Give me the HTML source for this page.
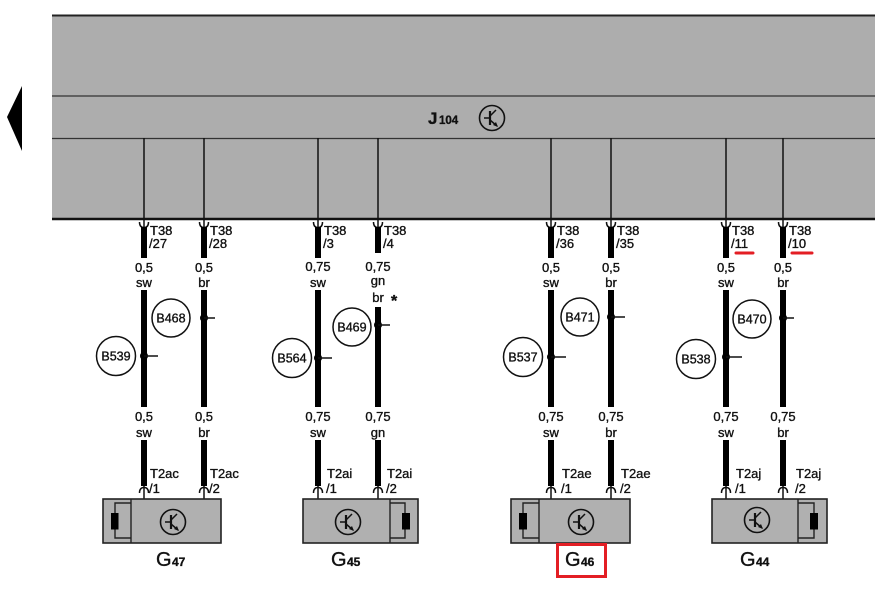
<!DOCTYPE html>
<html><head><meta charset="utf-8"><style>
html,body{margin:0;padding:0;background:#fff;}
svg{display:block;}
text{font-family:"Liberation Sans",Arial,sans-serif;fill:#111;stroke:#111;stroke-width:0.35px;}
</style></head><body>
<svg width="881" height="590" viewBox="0 0 881 590" xmlns="http://www.w3.org/2000/svg">
<rect width="881" height="590" fill="#fff"/>
<polygon points="22,86 7,117 22,151" fill="#000"/>
<rect x="52" y="15" width="823" height="204" fill="#adadad"/>
<line x1="52" y1="15.5" x2="875" y2="15.5" stroke="#222" stroke-width="2"/>
<line x1="52" y1="96" x2="875" y2="96" stroke="#333" stroke-width="1.3"/>
<line x1="52" y1="138.5" x2="875" y2="138.5" stroke="#333" stroke-width="1.3"/>
<line x1="52" y1="219" x2="875" y2="219" stroke="#111" stroke-width="2.5"/>
<text x="428" y="124" font-size="17" font-weight="bold">J</text>
<text x="439" y="124" font-size="11.5" font-weight="bold">104</text>
<g id="sym" fill="none" stroke="#111">
<circle cx="492" cy="118" r="12.5" stroke-width="1.6"/>
<line x1="484" y1="118" x2="490" y2="118" stroke-width="1.5"/>
<line x1="490" y1="111" x2="490" y2="125" stroke-width="2.2"/>
<line x1="490" y1="116" x2="496" y2="110" stroke-width="1.5"/>
<line x1="490" y1="120" x2="497" y2="126" stroke-width="1.5"/>
<polygon points="498,127 493,125 496,122" fill="#111" stroke="none"/>
</g>

<g stroke="#111" stroke-width="1.5" fill="none">
<line x1="144" y1="138" x2="144" y2="228"/>
<line x1="204" y1="138" x2="204" y2="228"/>
<line x1="318" y1="138" x2="318" y2="228"/>
<line x1="378" y1="138" x2="378" y2="228"/>
<line x1="551" y1="138" x2="551" y2="228"/>
<line x1="611" y1="138" x2="611" y2="228"/>
<line x1="726" y1="138" x2="726" y2="228"/>
<line x1="783" y1="138" x2="783" y2="228"/>
<path d="M139.5,222 Q139.5,227.5 144,227.5 Q148.5,227.5 148.5,222"/>
<path d="M199.5,222 Q199.5,227.5 204,227.5 Q208.5,227.5 208.5,222"/>
<path d="M313.5,222 Q313.5,227.5 318,227.5 Q322.5,227.5 322.5,222"/>
<path d="M373.5,222 Q373.5,227.5 378,227.5 Q382.5,227.5 382.5,222"/>
<path d="M546.5,222 Q546.5,227.5 551,227.5 Q555.5,227.5 555.5,222"/>
<path d="M606.5,222 Q606.5,227.5 611,227.5 Q615.5,227.5 615.5,222"/>
<path d="M721.5,222 Q721.5,227.5 726,227.5 Q730.5,227.5 730.5,222"/>
<path d="M778.5,222 Q778.5,227.5 783,227.5 Q787.5,227.5 787.5,222"/>
<line x1="144" y1="485" x2="144" y2="499"/>
<line x1="204" y1="485" x2="204" y2="499"/>
<line x1="318" y1="485" x2="318" y2="499"/>
<line x1="378" y1="485" x2="378" y2="499"/>
<line x1="551" y1="485" x2="551" y2="499"/>
<line x1="611" y1="485" x2="611" y2="499"/>
<line x1="726" y1="485" x2="726" y2="499"/>
<line x1="783" y1="485" x2="783" y2="499"/>
<path d="M139.5,493 Q139.5,487.5 144,487.5 Q148.5,487.5 148.5,493"/>
<path d="M199.5,493 Q199.5,487.5 204,487.5 Q208.5,487.5 208.5,493"/>
<path d="M313.5,493 Q313.5,487.5 318,487.5 Q322.5,487.5 322.5,493"/>
<path d="M373.5,493 Q373.5,487.5 378,487.5 Q382.5,487.5 382.5,493"/>
<path d="M546.5,493 Q546.5,487.5 551,487.5 Q555.5,487.5 555.5,493"/>
<path d="M606.5,493 Q606.5,487.5 611,487.5 Q615.5,487.5 615.5,493"/>
<path d="M721.5,493 Q721.5,487.5 726,487.5 Q730.5,487.5 730.5,493"/>
<path d="M778.5,493 Q778.5,487.5 783,487.5 Q787.5,487.5 787.5,493"/>
</g>
<g stroke="#000" stroke-width="6">
<line x1="144" y1="227" x2="144" y2="258"/><line x1="144" y1="290" x2="144" y2="407"/><line x1="144" y1="440" x2="144" y2="486"/>
<line x1="204" y1="227" x2="204" y2="258"/><line x1="204" y1="290" x2="204" y2="407"/><line x1="204" y1="440" x2="204" y2="486"/>
<line x1="318" y1="227" x2="318" y2="258"/><line x1="318" y1="290" x2="318" y2="407"/><line x1="318" y1="440" x2="318" y2="486"/>
<line x1="378" y1="227" x2="378" y2="253"/><line x1="378" y1="307" x2="378" y2="407"/><line x1="378" y1="440" x2="378" y2="486"/>
<line x1="551" y1="227" x2="551" y2="258"/><line x1="551" y1="290" x2="551" y2="407"/><line x1="551" y1="440" x2="551" y2="486"/>
<line x1="611" y1="227" x2="611" y2="258"/><line x1="611" y1="290" x2="611" y2="407"/><line x1="611" y1="440" x2="611" y2="486"/>
<line x1="726" y1="227" x2="726" y2="258"/><line x1="726" y1="290" x2="726" y2="407"/><line x1="726" y1="440" x2="726" y2="486"/>
<line x1="783" y1="227" x2="783" y2="258"/><line x1="783" y1="290" x2="783" y2="407"/><line x1="783" y1="440" x2="783" y2="486"/>
</g>

<g font-size="13">
<text x="150" y="235">T38</text><text x="149" y="248">/27</text>
<text x="210" y="235">T38</text><text x="209" y="248">/28</text>
<text x="324" y="235">T38</text><text x="323" y="248">/3</text>
<text x="384" y="235">T38</text><text x="383" y="248">/4</text>
<text x="557" y="235">T38</text><text x="556" y="248">/36</text>
<text x="617" y="235">T38</text><text x="616" y="248">/35</text>
<text x="732" y="235">T38</text><text x="731" y="248">/11</text>
<text x="789" y="235">T38</text><text x="788" y="248">/10</text>
</g>
<line x1="736" y1="253" x2="753" y2="253" stroke="#e31e24" stroke-width="3" stroke-linecap="round"/>
<line x1="792" y1="253" x2="812" y2="253" stroke="#e31e24" stroke-width="3" stroke-linecap="round"/>

<g font-size="13" text-anchor="middle">
<text x="144" y="272">0,5</text><text x="144" y="287">sw</text>
<text x="204" y="272">0,5</text><text x="204" y="287">br</text>
<text x="318" y="271">0,75</text><text x="318" y="287">sw</text>
<text x="378" y="271">0,75</text><text x="378" y="285">gn</text><text x="378" y="302">br</text>
<text x="551" y="272">0,5</text><text x="551" y="287">sw</text>
<text x="611" y="272">0,5</text><text x="611" y="287">br</text>
<text x="726" y="272">0,5</text><text x="726" y="287">sw</text>
<text x="783" y="272">0,5</text><text x="783" y="287">br</text>

<text x="144" y="421">0,5</text><text x="144" y="437">sw</text>
<text x="204" y="421">0,5</text><text x="204" y="437">br</text>
<text x="318" y="421">0,75</text><text x="318" y="437">sw</text>
<text x="378" y="421">0,75</text><text x="378" y="437">gn</text>
<text x="551" y="421">0,75</text><text x="551" y="437">sw</text>
<text x="611" y="421">0,75</text><text x="611" y="437">br</text>
<text x="726" y="421">0,75</text><text x="726" y="437">sw</text>
<text x="783" y="421">0,75</text><text x="783" y="437">br</text>
</g>
<text x="391" y="306" font-size="16" font-weight="bold">*</text>

<g fill="#fff" stroke="#111" stroke-width="1.5">
<circle cx="116" cy="356" r="19.5"/>
<circle cx="171" cy="318" r="19"/>
<circle cx="292" cy="358" r="19.5"/>
<circle cx="352" cy="327" r="19"/>
<circle cx="523" cy="357" r="19.5"/>
<circle cx="580" cy="317" r="19"/>
<circle cx="696" cy="359" r="19.5"/>
<circle cx="752" cy="319" r="19"/>
</g>
<g font-size="12.5" text-anchor="middle">
<text x="116" y="360.5">B539</text>
<text x="171" y="322.5">B468</text>
<text x="292" y="362.5">B564</text>
<text x="352" y="331.5">B469</text>
<text x="523" y="361.5">B537</text>
<text x="580" y="321.5">B471</text>
<text x="696" y="363.5">B538</text>
<text x="752" y="323.5">B470</text>
</g>
<g fill="#000">
<circle cx="144" cy="356" r="4"/><circle cx="204" cy="318" r="4"/>
<circle cx="318" cy="358" r="4"/><circle cx="378" cy="325" r="4"/>
<circle cx="551" cy="357" r="4"/><circle cx="611" cy="317" r="4"/>
<circle cx="726" cy="357" r="4"/><circle cx="783" cy="318" r="4"/>
</g>
<g stroke="#111" stroke-width="1.5">
<line x1="144" y1="356" x2="158" y2="356"/><line x1="204" y1="318" x2="215" y2="318"/>
<line x1="318" y1="358" x2="332" y2="358"/><line x1="378" y1="325" x2="390" y2="325"/>
<line x1="551" y1="357" x2="566" y2="357"/><line x1="611" y1="317" x2="625" y2="317"/>
<line x1="726" y1="357" x2="742" y2="357"/><line x1="783" y1="318" x2="794" y2="318"/>
</g>

<g font-size="13">
<text x="150" y="478">T2ac</text><text x="149" y="493">/1</text>
<text x="210" y="478">T2ac</text><text x="209" y="493">/2</text>
<text x="327" y="478">T2ai</text><text x="326" y="493">/1</text>
<text x="387" y="478">T2ai</text><text x="386" y="493">/2</text>
<text x="562" y="478">T2ae</text><text x="561" y="493">/1</text>
<text x="621" y="478">T2ae</text><text x="620" y="493">/2</text>
<text x="736" y="478">T2aj</text><text x="735" y="493">/1</text>
<text x="796" y="478">T2aj</text><text x="795" y="493">/2</text>
</g>

<g fill="#b0b0b0" stroke="#222" stroke-width="1.6">
<rect x="103" y="499" width="118" height="44"/>
<rect x="303" y="499" width="115" height="44"/>
<rect x="511" y="499" width="119" height="44"/>
<rect x="712" y="499" width="115" height="44"/>
</g>
<g stroke="#222" stroke-width="1.4" fill="none">
<line x1="131" y1="499" x2="131" y2="543"/>
<path d="M131,503 H115 V538 H131"/>
<line x1="390" y1="499" x2="390" y2="543"/>
<path d="M390,503 H405 V538 H390"/>
<line x1="539" y1="499" x2="539" y2="543"/>
<path d="M539,503 H523 V538 H539"/>
<line x1="798" y1="499" x2="798" y2="543"/>
<path d="M798,503 H814 V538 H798"/>
</g>
<g fill="#000">
<rect x="111" y="513" width="7.5" height="16.5"/>
<rect x="402" y="513" width="8" height="16.5"/>
<rect x="519" y="513" width="8" height="16.5"/>
<rect x="810" y="513" width="8" height="16.5"/>
</g>
<use href="#sym" x="-319" y="404"/>
<use href="#sym" x="-144" y="404"/>
<use href="#sym" x="89" y="404"/>
<use href="#sym" x="265" y="402"/>

<text x="156" y="566" font-size="20">G</text><text x="172" y="566" font-size="12" font-weight="bold">47</text>
<text x="331" y="566" font-size="20">G</text><text x="347" y="566" font-size="12" font-weight="bold">45</text>
<text x="565" y="566" font-size="20">G</text><text x="581" y="566" font-size="12" font-weight="bold">46</text>
<text x="740" y="566" font-size="20">G</text><text x="756" y="566" font-size="12" font-weight="bold">44</text>
<rect x="557.5" y="544.5" width="48" height="32" fill="none" stroke="#e31e24" stroke-width="3"/>
</svg>
</body></html>
